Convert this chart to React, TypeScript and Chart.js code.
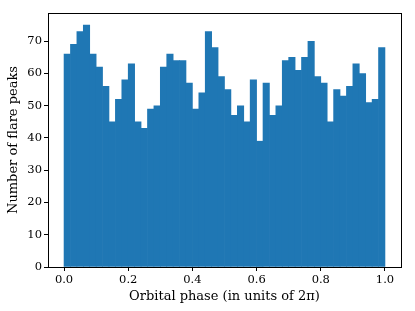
import React, { useEffect, useRef } from "react";
import { Chart, registerables } from "chart.js";

Chart.register(...registerables);

const BIN_CENTERS: number[] = Array.from({ length: 50 }, (_, i) => Number((0.01 + i * 0.02).toFixed(2)));
const COUNTS: number[] = [
  66, 69, 73, 75, 66, 62, 56, 45, 52, 58,
  63, 45, 43, 49, 50, 62, 66, 64, 64, 57,
  49, 54, 73, 68, 59, 55, 47, 50, 45, 58,
  39, 57, 47, 50, 64, 65, 61, 65, 70, 59,
  57, 45, 55, 53, 56, 63, 60, 51, 52, 68,
];
const X_TICKS: number[] = [0, 0.2, 0.4, 0.6, 0.8, 1.0];
const Y_TICKS: number[] = [0, 10, 20, 30, 40, 50, 60, 70];
const X_LABEL = "Orbital phase (in units of 2π)";
const Y_LABEL = "Number of flare peaks";

const FONT = "'DejaVu Serif', serif";

const framePlugin = {
  id: "frame",
  afterDraw(chart: any) {
    const { ctx, chartArea } = chart;
    ctx.save();
    ctx.strokeStyle = "#000";
    ctx.lineWidth = 1;
    ctx.strokeRect(
      Math.round(chartArea.left) + 0.5,
      Math.round(chartArea.top) + 0.5,
      Math.round(chartArea.right - chartArea.left),
      Math.round(chartArea.bottom - chartArea.top)
    );
    ctx.restore();
  },
};

export default function App() {
  const ref = useRef<HTMLCanvasElement | null>(null);
  useEffect(() => {
    document.body.style.margin = "0";
    const canvas = ref.current!;
    const chart = new Chart(canvas, {
      type: "bar",
      data: {
        datasets: [
          {
            data: BIN_CENTERS.map((x, i) => ({ x, y: COUNTS[i] })),
            backgroundColor: "#1f77b4",
            borderWidth: 0,
            barPercentage: 1,
            categoryPercentage: 1,
          } as any,
        ],
      },
      options: {
        responsive: false,
        animation: false,
        plugins: { legend: { display: false }, tooltip: { enabled: false } },
        layout: { padding: { left: 0, top: 13, right: 14, bottom: 0 } },
        scales: {
          x: {
            type: "linear",
            offset: false,
            min: -0.05,
            max: 1.05,
            afterBuildTicks: (s: any) => {
              s.ticks = X_TICKS.map((v) => ({ value: v }));
            },
            afterFit: (s: any) => {
              s.height = 44;
            },
            ticks: {
              color: "#000",
              font: { family: FONT, size: 11.5 },
              padding: 2,
              maxRotation: 0,
              autoSkip: false,
              callback: (v: any) => Number(v).toFixed(1),
            },
            grid: { offset: false, drawOnChartArea: false, drawTicks: true, tickLength: 4, color: "#000" },
            border: { display: true, color: "#000" },
            title: {
              display: true,
              text: X_LABEL,
              color: "#000",
              font: { family: FONT, size: 13 },
              padding: { top: 0, bottom: 7 },
            },
          },
          y: {
            type: "linear",
            min: 0,
            max: 78.75,
            afterBuildTicks: (s: any) => {
              s.ticks = Y_TICKS.map((v) => ({ value: v }));
            },
            afterFit: (s: any) => {
              s.width = 48;
            },
            ticks: {
              color: "#000",
              font: { family: FONT, size: 11.5 },
              padding: 2,
              autoSkip: false,
            },
            grid: { drawOnChartArea: false, drawTicks: true, tickLength: 4, color: "#000" },
            border: { display: true, color: "#000" },
            title: {
              display: true,
              text: Y_LABEL,
              color: "#000",
              font: { family: FONT, size: 13 },
              padding: { top: 6, bottom: 0 },
            },
          },
        },
      },
      plugins: [framePlugin],
    });
    return () => chart.destroy();
  }, []);
  return (
    <div style={{ width: 415, height: 311 }}>
      <canvas ref={ref} width={415} height={311} style={{ display: "block" }} />
    </div>
  );
}
